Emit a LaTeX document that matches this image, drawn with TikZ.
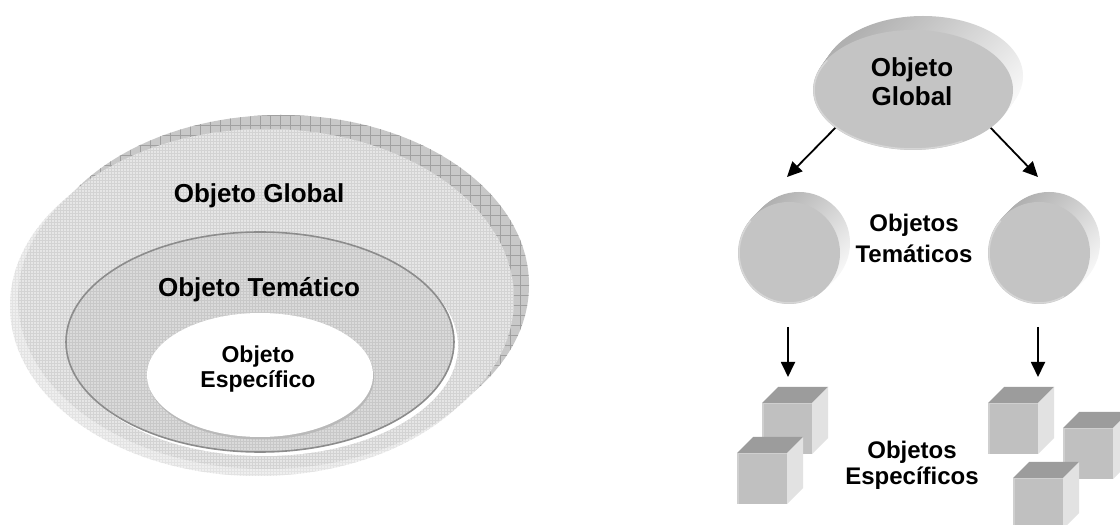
\documentclass[tikz,border=0pt]{standalone}
\usepackage{fontspec}
\setmainfont{Liberation Sans}
\usetikzlibrary{arrows.meta,calc,shapes.geometric}

\definecolor{underlay}{HTML}{EFEFEF}
\definecolor{underlaygrid}{HTML}{E3E3E3}
\definecolor{backdark}{HTML}{C8C8C8}
\definecolor{hatchline}{HTML}{A0A0A0}
\definecolor{frontlight}{HTML}{E6E6E6}
\definecolor{frontgrid}{HTML}{D3D3D3}
\definecolor{midfill}{HTML}{DADADA}
\definecolor{midgrid}{HTML}{C8C8C8}
\definecolor{midline}{HTML}{8C8C8C}
\definecolor{discface}{HTML}{C4C4C4}
\definecolor{discrim}{HTML}{D6D6D6}
\definecolor{cubefront}{HTML}{C0C0C0}
\definecolor{cubeedge}{HTML}{CFCFCF}
\definecolor{cubetop}{HTML}{9C9C9C}
\definecolor{cubeside}{HTML}{E2E2E2}

\begin{document}
\begin{tikzpicture}[x=1pt,y=1pt,
  biglbl/.style={font=\bfseries\fontsize{26}{30}\selectfont, anchor=base, inner sep=0},
  esplbl/.style={font=\bfseries\fontsize{23}{27}\selectfont, anchor=base, inner sep=0},
  sidelbl/.style={font=\bfseries\fontsize{24}{28}\selectfont, anchor=base, inner sep=0},
  conn/.style={line width=1.8pt, -{Triangle[length=15pt,width=14pt]}},
  rimshade/.style={top color=gray!62, bottom color=gray!6, shading angle=45},
  boxcube/.pic={
    \fill[cubefront] (0,0) rectangle (50,51);
    \fill[cubetop] (0,51) -- (16,67) -- (66,67) -- (50,51) -- cycle;
    \fill[cubeside] (50,0) -- (66,16) -- (66,67) -- (50,51) -- cycle;
    \draw[cubeedge, line width=1.5pt] (0.75,0) -- (0.75,50.25) -- (50,50.25);
  },
]
\useasboundingbox (0,0) rectangle (1120,525);
\clip (0,0) rectangle (1120,525);
\fill[white] (0,0) rectangle (1120,525);

% ---------- nested ellipses ----------
% soft lower-left rim
\begin{scope}
  \clip (258,219) ellipse [x radius=248, y radius=170];
  \fill[underlay] (0,40) rectangle (540,400);
  \draw[underlaygrid, line width=0.5pt, step=3] (0,40) grid (540,400);
\end{scope}
% cross-hatched back layer
\begin{scope}
  \clip (281,240) ellipse [x radius=248, y radius=170];
  \fill[backdark] (20,60) rectangle (540,420);
  \draw[hatchline, line width=0.7pt, step=10] (20,60) grid (540,420);
\end{scope}
% global layer
\begin{scope}
  \clip (266,226) ellipse [x radius=248, y radius=170];
  \fill[frontlight] (0,40) rectangle (540,420);
  \draw[frontgrid, line width=0.5pt, step=3] (0,40) grid (540,420);
\end{scope}
% thematic layer
\fill[white] (264,179) ellipse [x radius=194, y radius=110];
\begin{scope}
  \clip (260,183) ellipse [x radius=194, y radius=110];
  \fill[midfill] (50,60) rectangle (470,300);
  \draw[midgrid, line width=0.5pt, step=3] (50,60) grid (470,300);
\end{scope}
\draw[midline, line width=1.6pt] (260,183) ellipse [x radius=194, y radius=110];
% specific layer
\fill[gray!55] (261,147.5) ellipse [x radius=113, y radius=62];
\fill[white] (260,150) ellipse [x radius=113, y radius=62];

\node[biglbl] (tglobal) at (259,322) {Objeto Global};
\node[biglbl] (ttematico) at (259,228) {Objeto Temático};
\node[esplbl] (tespA) at (258,162) {Objeto};
\node[esplbl] (tespB) at (258,137) {Específico};

% ---------- hierarchy ----------
% global object
\foreach \k in {1,...,12}
  \shade[rimshade] (913+\k*10/12,435+\k*14/12) ellipse [x radius=100, y radius=60];
\node[ellipse, minimum width=200pt, minimum height=120pt, inner sep=0, fill=discface] (glob) at (913,435) {};
\draw[discrim, line width=1.5pt] ([shift={(150:99 and 59)}]913,435) arc[start angle=150, end angle=300, x radius=99, y radius=59];
\node[biglbl] (gA) at (912,448) {Objeto};
\node[biglbl] (gB) at (912,419) {Global};

% thematic objects
\foreach \cx in {789,1039}{
  \foreach \k in {1,...,10}
    \shade[rimshade] (\cx+\k,272+\k) circle (51);
}
\node[circle, minimum size=102pt, inner sep=0, fill=discface] (discL) at (789,272) {};
\node[circle, minimum size=102pt, inner sep=0, fill=discface] (discR) at (1039,272) {};
\draw[discrim, line width=1.5pt] ([shift={(140:50)}]789,272) arc[start angle=140, end angle=300, radius=50];
\draw[discrim, line width=1.5pt] ([shift={(140:50)}]1039,272) arc[start angle=140, end angle=300, radius=50];
\node[sidelbl] (tmA) at (914,293) {Objetos};
\node[sidelbl] (tmB) at (914,262) {Temáticos};

% specific objects
\pic (cubeA) at (762,71) {boxcube};
\pic (cubeB) at (737,21) {boxcube};
\pic (cubeC) at (988,71) {boxcube};
\pic (cubeD) at (1063,46) {boxcube};
\pic (cubeE) at (1013,-4) {boxcube};
\node[sidelbl] (spA) at (912,66) {Objetos};
\node[sidelbl] (spB) at (912,40) {Específicos};

% connectors
\coordinate (tipL) at (787,348);
\coordinate (tipR) at (1038,348);
\coordinate (downLs) at (788,198);
\coordinate (downLe) at (788,148);
\coordinate (downRs) at (1038,198);
\coordinate (downRe) at (1038,148);
\draw[conn] (glob.206) -- (tipL);
\draw[conn] (glob.334) -- (tipR);
\draw[conn] (downLs) -- (downLe);
\draw[conn] (downRs) -- (downRe);
\end{tikzpicture}
\end{document}
